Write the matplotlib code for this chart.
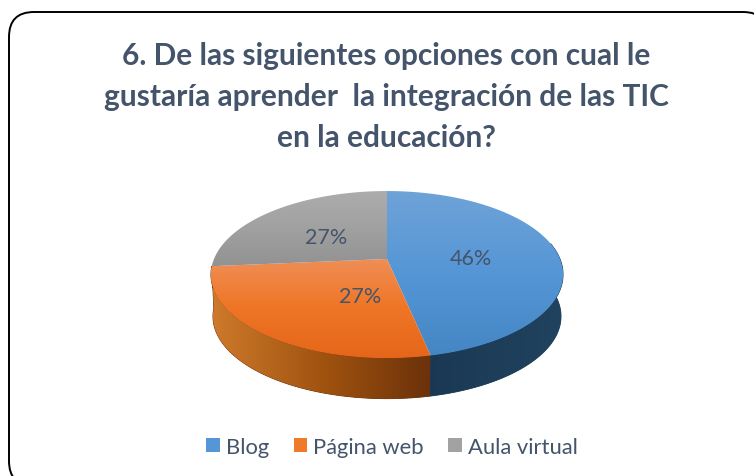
import numpy as np
import matplotlib
matplotlib.use('Agg')
import matplotlib.pyplot as plt
from matplotlib.patches import FancyBboxPatch, Patch, Polygon
from matplotlib.colors import LinearSegmentedColormap

title = '6. De las siguientes opciones con cual le\ngustaría aprender  la integración de las TIC\nen la educación?'
categories = ['Blog', 'Página web', 'Aula virtual']
values = [46.7, 26.9, 26.4]
labels = ['46%', '27%', '27%']
top_colors = [('#6fa3d8', '#5596d6', '#4485c4'), ('#ef8f58', '#f07525', '#e5661a'), ('#adadad', '#a0a0a0', '#909090')]
side_colors = [('#1a3854', '#21435f'), ('#cf7a2c', '#a0530f', '#69300a'), ('#707070', '#505050')]
legend_colors = ['#5596d6', '#ef7a2a', '#a2a2a2']
text_color = '#44546a'

plt.rcParams['font.family'] = ['Lato', 'DejaVu Sans']

fig = plt.figure(figsize=(7.54, 4.77), dpi=100)
ax = fig.add_axes([0, 0, 1, 1])
ax.set_xlim(0, 754)
ax.set_ylim(477, 0)
ax.axis('off')

# outer rounded frame, runs off the right and bottom
ax.add_patch(FancyBboxPatch((34, 38), 709, 424, boxstyle='round,pad=25,rounding_size=25',
                            fc='white', ec='black', lw=1.4, zorder=0))

ax.text(386, 97, title, ha='center', va='center', fontsize=21.5, fontweight='bold',
        color=text_color, linespacing=1.57)

# perspective projection of the disc
k = 0.186


def project(theta, cx=387, cy=260, rx=173, ry=80.6):
    u = np.sin(theta)
    v = np.cos(theta)
    d = 1 + k * v
    return cx + rx * u / d, cy - ry * v / d


def gradient(ax, colors, clip, extent, horizontal=False, z=1):
    cmap = LinearSegmentedColormap.from_list('g', colors)
    g = np.linspace(0, 1, 256)
    g = g.reshape(1, -1) if horizontal else g.reshape(-1, 1)
    im = ax.imshow(g, cmap=cmap, extent=extent, aspect='auto', zorder=z, interpolation='bilinear')
    clip.set_transform(ax.transData)
    im.set_clip_path(clip)


edges = np.cumsum([0] + values) / sum(values) * 2 * np.pi

# side wall: visible for the front half
depth = 42
side_extents = [[425, 563, 420, 260], [211, 436, 420, 260]]
for i in [1, 0]:
    t = np.linspace(edges[i], edges[i + 1], 200)
    t = t[(np.cos(t) < 0.2)]
    x1, y1 = project(t)
    x2, y2 = project(t[::-1], cy=260 + depth, rx=171, ry=79.5)
    pts = np.r_[np.c_[x1, y1], np.c_[x2, y2]]
    poly = Polygon(pts, closed=True, fc=side_colors[i][-1], ec=side_colors[i][-1], lw=0.6, zorder=1)
    ax.add_patch(poly)
    gradient(ax, side_colors[i], poly, side_extents[i], horizontal=True, z=1.5)

# top face, one slice at a time
top_extents = [[205, 570, 358, 190], [205, 570, 360, 258], [205, 570, 272, 190]]
for i in range(3):
    t = np.linspace(edges[i], edges[i + 1], 200)
    x, y = project(t)
    pts = np.r_[[[387, 260]], np.c_[x, y]]
    poly = Polygon(pts, closed=True, fc='none', ec='none')
    ax.add_patch(poly)
    gradient(ax, top_colors[i], poly, top_extents[i], z=2)

ax.set_xlim(0, 754)
ax.set_ylim(477, 0)

# data labels
label_pos = [(471, 259), (360, 297), (326, 238)]
for lab, (lx, ly) in zip(labels, label_pos):
    ax.text(lx, ly, lab, ha='center', va='center', fontsize=15.5, color=text_color, zorder=3)

handles = [Patch(fc=c, ec='none') for c in legend_colors]
ax.legend(handles, categories, loc='center', bbox_to_anchor=(392 / 754, 1 - 448 / 477), ncol=3,
          frameon=False, fontsize=15.8, labelcolor=text_color, handlelength=0.63, handleheight=0.63,
          handletextpad=0.27, columnspacing=1.12, borderpad=0)

fig.savefig('out.png', dpi=100)
